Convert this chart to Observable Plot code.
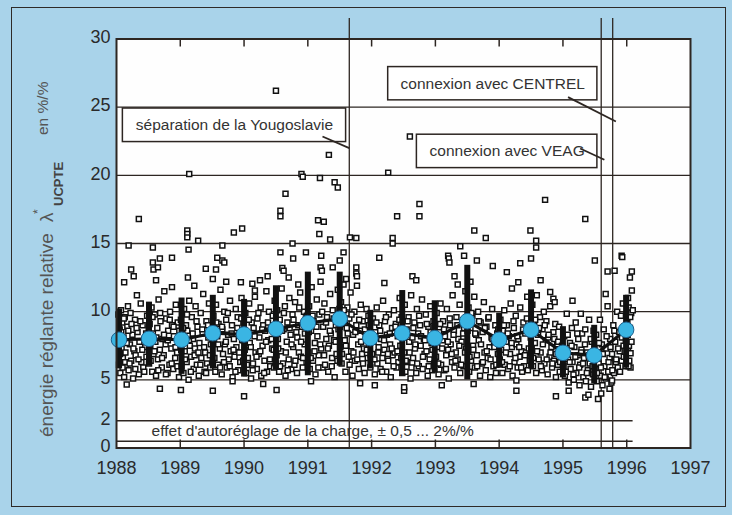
<!DOCTYPE html>
<html><head><meta charset="utf-8">
<script src="https://cdn.jsdelivr.net/npm/d3@7"></script>
<script src="https://cdn.jsdelivr.net/npm/@observablehq/plot@0.6"></script>
<style>
html,body{margin:0;padding:0;background:#a9d3ea;}
#wrap{position:relative;width:732px;height:515px;overflow:hidden;background:#a9d3ea;}
#border{position:absolute;left:11px;top:7px;width:715px;height:500px;border:1.5px solid #2e2a28;box-sizing:border-box;}
#chart{position:absolute;left:0;top:0;}
#ytitle{position:absolute;left:37px;top:437px;transform:rotate(-90deg);transform-origin:0 0;width:380px;height:30px;font-family:"Liberation Sans",Arial,sans-serif;color:#555;}
#ytitle span{position:absolute;white-space:nowrap;line-height:1;}
</style></head>
<body>
<div id="wrap">
  <div id="border"></div>
  <div id="chart"></div>
  <div id="ytitle">
    <span style="left:0;top:0;font-size:19px">énergie réglante relative</span>
    <span style="left:215px;top:0;font-size:19px">λ</span>
    <span style="left:223px;top:-5px;font-size:12px">*</span>
    <span style="left:231px;top:15px;font-size:13px;font-weight:bold;color:#444">UCPTE</span>
    <span style="left:302px;top:-2px;font-size:15.5px">en %/%</span>
  </div>
</div>
<script>
// ---- data ----
const xTicks = [1988, 1989, 1990, 1991, 1992, 1993, 1994, 1995, 1996, 1997];
const yTicks = [0, 2, 5, 10, 15, 20, 25, 30];
const fullGrid = [5, 10, 15, 20, 25];
const shortGrid = [0.5, 2];
const shortGridEnd = 1996.1;
const eventYears = [1991.65, 1995.60, 1995.78];

const halfYears = [1988.04, 1988.51, 1989.02, 1989.51, 1990.0, 1990.5, 1991.0, 1991.5, 1991.98, 1992.48, 1992.99, 1993.5, 1994.0, 1994.5, 1995.0, 1995.49, 1995.99];
const meanValues = [7.94, 8.01, 7.94, 8.42, 8.33, 8.74, 9.16, 9.48, 8.06, 8.42, 8.06, 9.30, 7.94, 8.67, 6.98, 6.79, 8.67];
const rangeHigh = [10.2, 10.7, 11.0, 11.2, 10.9, 11.9, 12.9, 12.9, 10.1, 11.55, 10.8, 13.4, 9.9, 11.6, 8.9, 9.0, 11.2];
const rangeLow = [5.8, 6.0, 5.4, 5.8, 5.2, 5.7, 5.3, 6.0, 5.8, 5.25, 5.5, 5.0, 5.85, 5.8, 5.15, 4.7, 5.85];

const noteTexts = ["séparation de la Yougoslavie", "connexion avec CENTREL", "connexion avec VEAG"];
const noteX1 = [1988.10, 1992.26, 1992.71];
const noteX2 = [1991.60, 1995.54, 1995.54];
const noteY1 = [22.44, 25.5, 20.53];
const noteY2 = [24.9, 27.94, 22.98];
const pointerX1 = [1991.23, 1995.08, 1995.27];
const pointerY1 = [22.85, 25.74, 21.97];
const pointerX2 = [1991.65, 1995.83, 1995.65];
const pointerY2 = [22.0, 23.95, 21.14];
const bandNote = "effet d'autoréglage de la charge, ± 0,5 ... 2%/%";
const bandNoteX = 1988.55;
const bandNoteY = 1.25;

const dailyValues = [
[1988.03,9.8],[1988.04,6.1],[1988.05,8.7],[1988.06,5.5],[1988.07,10.1],[1988.08,7.3],[1988.09,9.2],[1988.10,6.6],[1988.11,8.1],[1988.12,5.2],[1988.13,9.6],[1988.14,7.0],[1988.15,6.0],[1988.17,8.9],[1988.18,10.4],[1988.19,5.7],[1988.21,7.6],[1988.22,9.9],[1988.23,6.4],[1988.25,8.3],[1988.26,5.1],[1988.28,7.1],[1988.29,9.4],[1988.30,6.8],[1988.32,11.2],[1988.33,8.5],[1988.35,5.4],[1988.36,7.8],[1988.38,10.6],[1988.39,6.3],[1988.41,9.0],[1988.42,5.9],[1988.44,8.0],[1988.45,7.4],[1988.47,6.7],[1988.48,9.7],
[1988.035,7.9],[1988.055,6.9],[1988.075,8.5],[1988.095,5.9],[1988.115,9.5],[1988.135,6.3],[1988.16,7.7],[1988.185,8.6],[1988.205,6.2],[1988.235,9.1],[1988.265,7.3],[1988.295,5.8],[1988.315,8.8],[1988.345,6.5],[1988.375,9.3],[1988.405,7.2],[1988.435,5.6],[1988.465,8.4],
[1988.12,12.15],[1988.16,4.65],[1988.19,14.85],[1988.23,13.1],[1988.27,12.6],[1988.35,16.8],
[1988.51,6.2],[1988.52,9.1],[1988.53,7.5],[1988.55,10.3],[1988.56,5.6],[1988.57,8.4],[1988.58,6.9],[1988.60,9.8],[1988.61,7.8],[1988.62,5.3],[1988.64,8.8],[1988.65,6.5],[1988.66,10.9],[1988.68,7.2],[1988.69,9.3],[1988.71,5.9],[1988.72,8.0],[1988.74,6.8],[1988.75,11.5],[1988.77,7.6],[1988.78,9.5],[1988.80,5.5],[1988.81,8.6],[1988.83,6.1],[1988.84,10.0],[1988.86,7.3],[1988.87,9.0],[1988.89,5.8],[1988.90,8.2],[1988.92,6.6],[1988.93,10.5],[1988.95,7.0],[1988.96,9.2],[1988.98,5.2],
[1988.505,8.7],[1988.535,6.4],[1988.565,9.6],[1988.595,7.1],[1988.625,8.1],[1988.655,5.7],[1988.685,9.9],[1988.715,6.6],[1988.745,8.3],[1988.775,5.4],[1988.805,7.9],[1988.835,9.4],[1988.865,6.2],[1988.895,8.9],[1988.925,7.4],[1988.955,6.0],[1988.985,8.6],
[1988.57,14.7],[1988.57,13.6],[1988.58,13.1],[1988.65,13.25],[1988.68,13.9],[1988.87,13.95],[1988.87,11.8],[1988.68,4.35],[1988.62,12.3],
[1989.01,9.4],[1989.02,6.0],[1989.03,8.3],[1989.05,5.5],[1989.06,10.2],[1989.07,7.1],[1989.09,9.0],[1989.10,6.3],[1989.11,8.6],[1989.13,5.0],[1989.14,10.8],[1989.15,7.5],[1989.17,6.7],[1989.18,9.6],[1989.20,8.0],[1989.21,5.8],[1989.23,7.3],[1989.24,10.4],[1989.26,6.1],[1989.27,8.9],[1989.29,5.3],[1989.30,7.7],[1989.32,9.9],[1989.33,6.6],[1989.35,8.4],[1989.36,11.3],[1989.38,5.6],[1989.39,7.0],[1989.41,9.3],[1989.42,6.2],[1989.44,8.1],[1989.45,10.6],[1989.47,5.9],[1989.48,7.6],
[1989.015,7.2],[1989.045,8.8],[1989.075,6.5],[1989.105,9.8],[1989.135,7.9],[1989.165,5.6],[1989.195,8.4],[1989.225,6.8],[1989.255,9.3],[1989.285,7.0],[1989.315,6.1],[1989.345,8.7],[1989.375,7.4],[1989.405,5.5],[1989.435,9.0],[1989.465,6.8],[1989.495,8.2],
[1989.01,4.25],[1989.12,12.5],[1989.13,14.55],[1989.14,20.1],[1989.11,15.95],[1989.11,15.7],[1989.11,15.45],[1989.28,15.2],[1989.40,13.15],[1989.22,11.9],
[1989.51,6.4],[1989.52,9.7],[1989.53,7.8],[1989.55,5.6],[1989.56,10.5],[1989.58,8.2],[1989.59,6.1],[1989.60,9.1],[1989.62,7.3],[1989.63,11.6],[1989.65,5.4],[1989.66,8.7],[1989.67,6.9],[1989.69,10.0],[1989.70,7.6],[1989.72,9.4],[1989.73,5.9],[1989.75,8.3],[1989.76,6.5],[1989.78,10.8],[1989.79,7.1],[1989.81,9.0],[1989.82,5.2],[1989.84,8.0],[1989.85,6.7],[1989.87,10.2],[1989.88,7.4],[1989.90,9.6],[1989.91,5.7],[1989.93,8.5],[1989.94,6.3],[1989.96,11.0],[1989.97,7.9],[1989.99,9.2],
[1989.505,8.0],[1989.535,6.6],[1989.565,9.2],[1989.595,7.6],[1989.625,5.9],[1989.655,8.9],[1989.685,6.3],[1989.715,7.8],[1989.745,9.9],[1989.775,6.0],[1989.805,8.4],[1989.835,7.2],[1989.865,5.6],[1989.895,8.8],[1989.925,7.0],[1989.955,9.5],[1989.985,6.4],
[1989.51,4.2],[1989.51,12.4],[1989.56,13.1],[1989.58,13.95],[1989.66,13.75],[1989.69,13.6],[1989.66,14.85],[1989.84,15.8],[1989.95,12.15],[1989.97,16.1],[1989.82,4.9],[1989.72,12.2],
[1990.01,7.2],[1990.02,9.9],[1990.03,5.5],[1990.05,8.4],[1990.06,6.6],[1990.08,10.6],[1990.09,7.7],[1990.11,5.1],[1990.12,9.2],[1990.14,6.2],[1990.15,8.8],[1990.17,11.1],[1990.18,7.0],[1990.20,5.8],[1990.21,9.5],[1990.23,6.9],[1990.24,8.1],[1990.26,10.3],[1990.27,5.3],[1990.29,7.5],[1990.30,9.0],[1990.32,6.4],[1990.33,8.6],[1990.35,11.5],[1990.36,5.6],[1990.38,7.9],[1990.39,10.0],[1990.41,6.0],[1990.42,8.9],[1990.44,7.3],[1990.45,9.7],[1990.47,5.9],[1990.48,10.8],
[1990.015,8.3],[1990.045,6.1],[1990.075,9.4],[1990.105,7.4],[1990.135,5.7],[1990.165,8.2],[1990.195,6.7],[1990.225,9.9],[1990.255,7.1],[1990.285,8.7],[1990.315,5.5],[1990.345,7.8],[1990.375,9.2],[1990.405,6.5],[1990.435,8.0],[1990.465,7.2],[1990.495,6.2],
[1990.00,3.8],[1990.13,12.05],[1990.17,11.55],[1990.37,12.6],[1990.25,12.3],[1990.30,4.7],
[1990.51,6.8],[1990.52,10.1],[1990.53,8.0],[1990.55,5.6],[1990.56,9.4],[1990.58,7.1],[1990.59,11.7],[1990.61,6.2],[1990.62,8.7],[1990.64,10.4],[1990.65,5.3],[1990.67,7.8],[1990.68,9.2],[1990.70,6.5],[1990.71,11.0],[1990.73,8.3],[1990.74,5.8],[1990.76,9.8],[1990.77,7.4],[1990.79,6.1],[1990.80,10.7],[1990.82,8.5],[1990.83,5.5],[1990.85,9.0],[1990.86,7.0],[1990.88,11.4],[1990.89,6.7],[1990.91,8.9],[1990.92,5.9],[1990.94,10.0],[1990.95,7.6],[1990.97,9.5],[1990.98,6.3],
[1990.505,9.0],[1990.535,7.3],[1990.565,6.0],[1990.595,8.6],[1990.625,9.9],[1990.655,7.0],[1990.685,5.7],[1990.715,8.8],[1990.745,7.6],[1990.775,9.4],[1990.805,6.4],[1990.835,8.1],[1990.865,10.3],[1990.895,7.8],[1990.925,6.6],[1990.955,8.4],[1990.985,9.7],
[1990.50,26.2],[1990.51,4.25],[1990.57,17.4],[1990.57,17.0],[1990.65,18.65],[1990.57,14.35],[1990.60,13.2],[1990.62,13.0],[1990.77,13.9],[1990.76,15.0],[1990.90,20.1],[1990.92,19.9],[1990.97,14.35],[1990.70,12.5],[1990.85,12.0],
[1991.01,7.0],[1991.02,10.4],[1991.03,5.8],[1991.05,8.6],[1991.06,11.8],[1991.08,6.4],[1991.09,9.3],[1991.11,7.7],[1991.12,5.4],[1991.14,10.9],[1991.15,8.2],[1991.17,6.8],[1991.18,9.8],[1991.20,12.2],[1991.21,7.3],[1991.23,5.9],[1991.24,8.9],[1991.26,10.6],[1991.27,6.1],[1991.29,8.0],[1991.30,9.6],[1991.32,5.6],[1991.33,7.5],[1991.35,11.3],[1991.36,8.4],[1991.38,6.6],[1991.39,10.1],[1991.41,7.9],[1991.42,5.2],[1991.44,9.0],[1991.45,6.9],[1991.47,11.6],[1991.48,8.7],
[1991.015,8.5],[1991.045,6.6],[1991.075,9.7],[1991.105,7.1],[1991.135,8.9],[1991.165,5.9],[1991.195,7.6],[1991.225,10.0],[1991.255,6.8],[1991.285,9.2],[1991.315,7.3],[1991.345,8.6],[1991.375,6.0],[1991.405,9.5],[1991.435,7.8],[1991.465,6.4],[1991.495,10.2],
[1991.19,19.8],[1991.16,16.7],[1991.25,16.6],[1991.18,15.7],[1991.21,14.1],[1991.20,13.25],[1991.22,13.0],[1991.33,21.5],[1991.35,15.3],[1991.39,13.25],[1991.42,19.5],[1991.47,19.1],[1991.50,13.75],[1991.05,4.9],
[1991.51,7.4],[1991.52,10.7],[1991.53,6.2],[1991.55,9.1],[1991.56,12.0],[1991.58,7.9],[1991.59,5.6],[1991.61,8.8],[1991.62,10.3],[1991.64,6.7],[1991.65,9.5],[1991.67,11.4],[1991.68,7.1],[1991.70,5.3],[1991.71,8.3],[1991.73,10.0],[1991.74,6.4],[1991.76,9.0],[1991.77,11.9],[1991.79,7.6],[1991.80,5.8],[1991.82,8.6],[1991.83,10.5],[1991.85,6.9],[1991.86,9.3],[1991.88,7.3],[1991.89,5.5],[1991.91,8.1],[1991.92,10.2],[1991.94,6.6],[1991.95,9.7],[1991.97,7.7],[1991.98,5.9],
[1991.505,8.9],[1991.535,6.9],[1991.565,10.1],[1991.595,7.5],[1991.625,8.4],[1991.655,6.1],[1991.685,9.8],[1991.715,7.0],[1991.745,8.5],[1991.775,6.5],[1991.805,9.4],[1991.835,7.8],[1991.865,6.2],[1991.895,8.7],[1991.925,7.2],[1991.955,9.0],[1991.985,6.8],
[1991.56,14.35],[1991.66,15.45],[1991.76,15.4],[1991.76,13.25],[1991.76,12.8],[1991.77,12.6],[1991.82,4.75],[1991.60,12.4],
[1992.01,6.9],[1992.02,9.5],[1992.03,7.8],[1992.05,5.4],[1992.06,8.5],[1992.08,10.3],[1992.09,6.2],[1992.11,7.4],[1992.12,9.0],[1992.14,5.8],[1992.15,8.0],[1992.17,6.6],[1992.18,10.8],[1992.20,7.2],[1992.21,9.3],[1992.23,5.6],[1992.24,8.3],[1992.26,6.4],[1992.27,9.8],[1992.29,7.6],[1992.30,5.2],[1992.32,8.8],[1992.33,6.8],[1992.35,10.1],[1992.36,7.0],[1992.38,9.1],[1992.39,5.9],[1992.41,8.2],[1992.42,6.3],[1992.44,11.0],[1992.45,7.5],[1992.47,9.6],[1992.48,5.5],
[1992.015,8.2],[1992.045,6.5],[1992.075,9.2],[1992.105,7.0],[1992.135,8.6],[1992.165,5.6],[1992.195,7.9],[1992.225,9.6],[1992.255,6.9],[1992.285,8.4],[1992.315,7.3],[1992.345,6.0],[1992.375,8.9],[1992.405,7.1],[1992.435,9.4],[1992.465,6.6],[1992.495,8.1],
[1992.12,13.95],[1992.26,20.2],[1992.33,15.4],[1992.33,15.0],[1992.40,17.0],[1992.20,12.1],[1992.05,4.6],
[1992.51,7.0],[1992.52,10.5],[1992.53,5.6],[1992.55,8.7],[1992.56,6.3],[1992.58,9.6],[1992.59,7.8],[1992.61,5.1],[1992.62,11.2],[1992.64,8.1],[1992.65,6.6],[1992.67,9.2],[1992.68,7.3],[1992.70,5.5],[1992.71,10.2],[1992.73,8.4],[1992.74,6.0],[1992.76,9.0],[1992.77,7.5],[1992.79,10.9],[1992.80,5.8],[1992.82,8.0],[1992.83,6.9],[1992.85,9.8],[1992.86,7.1],[1992.88,5.3],[1992.89,8.9],[1992.91,6.5],[1992.92,10.4],[1992.94,7.7],[1992.95,5.7],[1992.97,9.3],[1992.98,6.2],
[1992.505,8.4],[1992.535,6.4],[1992.565,9.3],[1992.595,7.0],[1992.625,5.9],[1992.655,8.8],[1992.685,7.6],[1992.715,6.2],[1992.745,9.7],[1992.775,8.2],[1992.805,6.7],[1992.835,7.9],[1992.865,9.1],[1992.895,6.0],[1992.925,8.5],[1992.955,7.2],[1992.985,8.8],
[1992.51,4.2],[1992.51,4.45],[1992.60,22.85],[1992.64,12.6],[1992.75,17.9],[1992.75,17.0],[1992.70,12.3],
[1993.01,6.7],[1993.02,9.9],[1993.03,7.4],[1993.05,5.4],[1993.06,8.5],[1993.08,10.6],[1993.09,6.1],[1993.11,7.9],[1993.12,9.3],[1993.14,5.7],[1993.15,8.2],[1993.17,6.8],[1993.18,10.2],[1993.20,7.2],[1993.21,5.1],[1993.23,9.0],[1993.24,7.6],[1993.26,6.3],[1993.27,11.2],[1993.29,8.6],[1993.30,5.9],[1993.32,7.0],[1993.33,9.6],[1993.35,6.5],[1993.36,8.0],[1993.38,10.5],[1993.39,5.5],[1993.41,7.8],[1993.42,9.2],[1993.44,6.0],[1993.45,8.8],[1993.47,11.5],[1993.48,7.3],
[1993.015,8.0],[1993.045,6.2],[1993.075,9.1],[1993.105,7.3],[1993.135,8.7],[1993.165,5.8],[1993.195,7.8],[1993.225,9.5],[1993.255,6.9],[1993.285,8.3],[1993.315,6.4],[1993.345,9.0],[1993.375,7.5],[1993.405,6.1],[1993.435,8.4],[1993.465,7.0],[1993.495,9.3],
[1993.20,14.1],[1993.21,13.9],[1993.22,13.6],[1993.30,12.6],[1993.39,14.8],[1993.45,14.1],[1993.10,4.6],[1993.35,12.0],
[1993.51,7.1],[1993.52,10.3],[1993.53,5.6],[1993.55,8.8],[1993.56,6.4],[1993.58,9.7],[1993.59,7.5],[1993.61,11.1],[1993.62,5.9],[1993.64,8.3],[1993.65,6.8],[1993.67,10.0],[1993.68,7.9],[1993.70,5.3],[1993.71,9.2],[1993.73,6.2],[1993.74,8.5],[1993.76,10.7],[1993.77,7.0],[1993.79,5.7],[1993.80,8.9],[1993.82,6.6],[1993.83,9.5],[1993.85,7.4],[1993.86,5.2],[1993.88,8.1],[1993.89,10.2],[1993.91,6.0],[1993.92,7.7],[1993.94,9.0],[1993.95,5.5],[1993.97,8.4],[1993.98,6.9],
[1993.505,8.6],[1993.535,6.7],[1993.565,9.9],[1993.595,7.2],[1993.625,8.4],[1993.655,6.0],[1993.685,9.3],[1993.715,7.6],[1993.745,6.3],[1993.775,8.8],[1993.805,7.1],[1993.835,9.6],[1993.865,6.5],[1993.895,8.0],[1993.925,7.4],[1993.955,6.1],[1993.985,8.7],
[1993.61,15.95],[1993.65,13.75],[1993.79,15.4],[1993.90,13.35],[1993.55,12.2],[1993.60,4.7],
[1994.01,6.5],[1994.02,9.4],[1994.03,7.2],[1994.05,5.5],[1994.06,8.6],[1994.08,10.1],[1994.09,6.1],[1994.11,7.8],[1994.12,9.0],[1994.14,5.8],[1994.15,8.2],[1994.17,6.9],[1994.18,10.6],[1994.20,7.4],[1994.21,5.3],[1994.23,8.8],[1994.24,6.3],[1994.26,9.7],[1994.27,7.6],[1994.29,5.9],[1994.30,8.0],[1994.32,6.7],[1994.33,10.3],[1994.35,7.1],[1994.36,5.6],[1994.38,9.2],[1994.39,6.0],[1994.41,8.4],[1994.42,7.0],[1994.44,11.1],[1994.45,5.7],[1994.47,8.9],[1994.48,6.4],
[1994.015,8.0],[1994.045,6.3],[1994.075,9.0],[1994.105,7.0],[1994.135,8.4],[1994.165,6.0],[1994.195,7.7],[1994.225,9.3],[1994.255,6.6],[1994.285,8.2],[1994.315,7.4],[1994.345,5.9],[1994.375,8.7],[1994.405,6.8],[1994.435,9.5],[1994.465,7.3],[1994.495,8.1],
[1994.12,12.9],[1994.27,4.2],[1994.27,4.95],[1994.30,12.15],[1994.33,13.55],[1994.49,15.95],[1994.20,11.7],
[1994.51,7.3],[1994.52,10.5],[1994.53,6.0],[1994.55,9.0],[1994.56,7.7],[1994.58,5.5],[1994.59,11.2],[1994.61,8.3],[1994.62,6.5],[1994.64,9.6],[1994.65,7.0],[1994.67,5.7],[1994.68,8.7],[1994.70,10.0],[1994.71,6.2],[1994.73,7.9],[1994.74,9.3],[1994.76,5.4],[1994.77,8.1],[1994.79,6.7],[1994.80,10.4],[1994.82,7.4],[1994.83,5.9],[1994.85,8.5],[1994.86,6.4],[1994.88,9.1],[1994.89,5.2],[1994.91,7.6],[1994.92,6.1],[1994.94,8.9],[1994.95,5.6],[1994.97,7.2],[1994.98,6.8],
[1994.505,8.6],[1994.535,6.6],[1994.565,9.4],[1994.595,7.1],[1994.625,8.8],[1994.655,6.0],[1994.685,7.6],[1994.715,9.0],[1994.745,6.5],[1994.775,8.3],[1994.805,7.0],[1994.835,6.2],[1994.865,8.0],[1994.895,6.9],[1994.925,7.8],[1994.955,6.3],[1994.985,7.5],
[1994.50,13.9],[1994.58,14.7],[1994.58,15.2],[1994.72,18.2],[1994.80,11.45],[1994.85,10.95],[1994.87,10.7],[1994.89,3.8],[1994.65,12.3],
[1995.01,6.0],[1995.02,8.2],[1995.03,5.3],[1995.05,7.1],[1995.06,9.85],[1995.08,6.5],[1995.09,4.8],[1995.11,7.7],[1995.12,5.8],[1995.14,8.8],[1995.15,6.3],[1995.17,5.0],[1995.18,7.4],[1995.20,9.2],[1995.21,5.5],[1995.23,6.8],[1995.24,8.0],[1995.26,4.6],[1995.27,6.1],[1995.28,9.85],[1995.29,7.2],[1995.30,8.4],[1995.32,5.2],[1995.33,6.6],[1995.35,8.7],[1995.36,4.9],[1995.38,7.0],[1995.39,5.7],[1995.41,9.4],[1995.42,6.2],[1995.44,4.5],[1995.45,7.8],[1995.47,5.4],[1995.48,8.6],
[1995.015,7.0],[1995.045,5.6],[1995.075,8.3],[1995.105,6.3],[1995.135,7.5],[1995.165,5.4],[1995.195,6.7],[1995.225,8.4],[1995.255,5.9],[1995.285,7.0],[1995.315,6.2],[1995.345,7.6],[1995.375,5.5],[1995.405,6.8],[1995.435,8.0],[1995.465,6.0],[1995.495,7.3],
[1995.09,4.2],[1995.35,16.8],[1995.35,3.7],[1995.15,10.8],[1995.40,3.9],
[1995.51,5.8],[1995.52,8.3],[1995.53,4.9],[1995.55,7.0],[1995.56,6.2],[1995.58,9.4],[1995.59,5.3],[1995.61,7.6],[1995.62,4.6],[1995.64,8.7],[1995.65,6.0],[1995.67,5.1],[1995.68,7.3],[1995.70,10.4],[1995.71,5.6],[1995.73,6.6],[1995.74,8.0],[1995.76,4.8],[1995.77,6.9],[1995.79,9.0],[1995.80,5.5],[1995.82,7.8],[1995.83,6.3],[1995.85,10.0],[1995.86,5.9],[1995.88,8.5],[1995.89,7.1],[1995.91,9.7],[1995.92,6.4],[1995.94,10.6],[1995.95,7.5],[1995.97,8.9],[1995.98,6.0],
[1995.505,6.8],[1995.535,5.5],[1995.565,7.7],[1995.595,5.9],[1995.625,6.9],[1995.655,5.2],[1995.685,8.2],[1995.715,6.3],[1995.745,7.4],[1995.775,5.7],[1995.805,8.6],[1995.835,6.5],[1995.865,7.3],[1995.895,5.6],[1995.925,8.1],[1995.955,6.7],[1995.985,7.9],
[1995.50,13.75],[1995.67,11.3],[1995.70,12.95],[1995.73,4.35],[1995.77,4.95],[1995.81,13.0],[1995.92,14.1],[1995.93,14.0],[1995.55,3.6],[1995.60,4.0],
[1996.01,9.2],[1996.02,7.1],[1996.03,10.3],[1996.04,6.4],[1996.05,8.8],[1996.06,6.95],[1996.07,9.9],[1996.08,11.55],[1996.05,12.5],[1996.08,12.95],[1996.02,11.0],[1996.06,5.9],
[1996.015,8.3],[1996.035,7.5],[1996.055,9.6],[1996.075,7.8],[1996.095,10.1],[1996.03,6.0]
];

// ---- build ----
const ink = "#2d2622";
const font = "'Liberation Sans', Arial, sans-serif";
const summary = halfYears.map((t, i) => ({t, m: meanValues[i], lo: rangeLow[i], hi: rangeHigh[i]}));
const notes = noteTexts.map((s, i) => ({s, x1: noteX1[i], x2: noteX2[i], y1: noteY1[i], y2: noteY2[i],
  px1: pointerX1[i], py1: pointerY1[i], px2: pointerX2[i], py2: pointerY2[i]}));

const chart = Plot.plot({
  width: 732, height: 515,
  marginLeft: 116, marginRight: 42, marginTop: 38.5, marginBottom: 67.5,
  x: {domain: [1988, 1997], axis: null},
  y: {domain: [0, 30], axis: null},
  style: {background: "transparent", fontFamily: font, overflow: "visible"},
  marks: [
    Plot.frame({fill: "#fefefe", stroke: null}),
    Plot.ruleY(fullGrid, {stroke: ink, strokeWidth: 1.4}),
    Plot.ruleY(shortGrid, {x1: 1988, x2: shortGridEnd, stroke: ink, strokeWidth: 1.4}),
    Plot.ruleX(eventYears, {y1: 0, y2: 31.5, stroke: ink, strokeWidth: 1.3}),
    Plot.dot(dailyValues, {x: d => d[0], y: d => d[1], symbol: "square", r: 2.8, fill: "white", stroke: "#111", strokeWidth: 1.5}),
    Plot.ruleX(summary, {x: "t", y1: "lo", y2: "hi", stroke: "#111", strokeWidth: 6}),
    Plot.line(summary, {x: "t", y: "m", stroke: "#111", strokeWidth: 3.2}),
    Plot.dot(summary, {x: "t", y: "m", r: 7.8, fill: "#3ab5e3", stroke: "#1d5f8c", strokeWidth: 1}),
    Plot.rect(notes, {x1: "x1", x2: "x2", y1: "y1", y2: "y2", fill: "white", stroke: ink, strokeWidth: 1.5}),
    Plot.link(notes, {x1: "px1", y1: "py1", x2: "px2", y2: "py2", stroke: ink, strokeWidth: 1.8}),
    Plot.text(notes, {x: d => (d.x1 + d.x2) / 2, y: d => (d.y1 + d.y2) / 2, text: "s", fontSize: 15.5, fill: "#333"}),
    Plot.text([bandNote], {x: bandNoteX, y: bandNoteY, text: d => d, textAnchor: "start", fontSize: 15.5, fill: "#333"}),
    Plot.axisX({anchor: "bottom", ticks: xTicks, tickSize: 0, tickPadding: 13, fontSize: 18, fill: "#2a2a2a", tickFormat: d => String(d)}),
    Plot.axisX({anchor: "top", ticks: xTicks.slice(1, -1), tickSize: -7, tickFormat: () => "", stroke: ink, strokeWidth: 1.5}),
    Plot.axisX({anchor: "bottom", ticks: xTicks.slice(1, -1), tickSize: -8, tickFormat: () => "", stroke: ink, strokeWidth: 1.5}),
    Plot.axisY({anchor: "left", ticks: yTicks, tickSize: 0, tickPadding: 6, dy: -1.5, fontSize: 18, fill: "#2a2a2a", tickFormat: d => String(d)}),
    Plot.frame({stroke: ink, strokeWidth: 2})
  ]
});
document.getElementById("chart").appendChild(chart);
</script>
</body></html>
